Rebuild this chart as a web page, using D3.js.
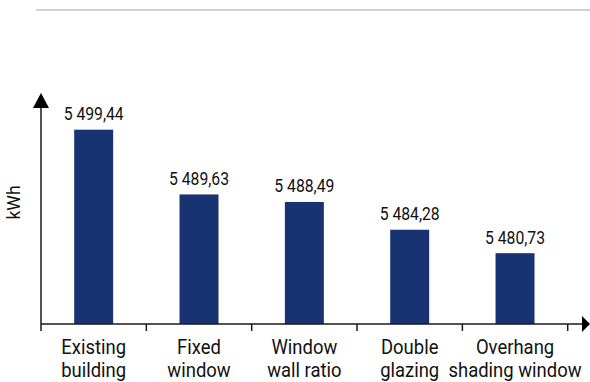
<!DOCTYPE html>
<html>
<head>
<meta charset="utf-8">
<script src="https://cdn.jsdelivr.net/npm/d3@7"></script>
<style>
  html, body { margin: 0; padding: 0; background: #fff; }
  svg { display: block; }
  text { font-family: Roboto, "Noto Sans", sans-serif; fill: #111; }
</style>
</head>
<body>
<script>
const categories = ["Existing building", "Fixed window", "Window wall ratio", "Double glazing", "Overhang shading window"];
const labelLines = [["Existing", "building"], ["Fixed", "window"], ["Window", "wall ratio"], ["Double", "glazing"], ["Overhang", "shading window"]];
const values = [5499.44, 5489.63, 5488.49, 5484.28, 5480.73];
const valueLabels = ["5 499,44", "5 489,63", "5 488,49", "5 484,28", "5 480,73"];
const yDomain = [5470, 5505];
const yTitle = "kWh";

const W = 590, H = 382;
const svg = d3.select("body").append("svg").attr("width", W).attr("height", H);

// top gray rule
svg.append("line").attr("x1", 36).attr("x2", 590).attr("y1", 10).attr("y2", 10)
  .attr("stroke", "#d2d2d2").attr("stroke-width", 2);

const x = d3.scaleBand().domain(categories).range([41, 567.7]).paddingInner(0).paddingOuter(0);
const y = d3.scaleLinear().domain(yDomain).range([324, 93]);
const barW = x.bandwidth() * 0.37;
const axisColor = "#1a1a1a";

// bars
svg.selectAll("rect.bar").data(values).enter().append("rect")
  .attr("class", "bar")
  .attr("x", (d, i) => x(categories[i]) + x.bandwidth() / 2 - barW / 2)
  .attr("width", barW)
  .attr("y", d => y(d))
  .attr("height", d => y(yDomain[0]) - y(d))
  .attr("fill", "#183371");

// value labels
svg.selectAll("text.val").data(values).enter().append("text")
  .attr("class", "val")
  .attr("transform", (d, i) => `translate(${x(categories[i]) + x.bandwidth() / 2},${y(d) - 9.5}) scale(0.9,1)`)
  .attr("text-anchor", "middle")
  .attr("font-size", 17.5)
  .text((d, i) => valueLabels[i]);

// x axis line
const y0 = y(yDomain[0]);
svg.append("line").attr("x1", 41).attr("x2", 582).attr("y1", y0).attr("y2", y0)
  .attr("stroke", axisColor).attr("stroke-width", 1.5);
svg.append("path").attr("d", `M582,${y0 - 8}L590,${y0}L582,${y0 + 8}Z`).attr("fill", "#000");

// ticks at band boundaries
const tickXs = categories.map(c => x(c)).concat([x.range()[1]]);
svg.selectAll("line.tick").data(tickXs).enter().append("line")
  .attr("class", "tick")
  .attr("x1", d => d).attr("x2", d => d)
  .attr("y1", y0).attr("y2", y0 + 7)
  .attr("stroke", axisColor).attr("stroke-width", 1.5);

// y axis line + arrow
svg.append("line").attr("x1", 41).attr("x2", 41).attr("y1", y0).attr("y2", y(yDomain[1]) + 14)
  .attr("stroke", axisColor).attr("stroke-width", 1.5);
const yt = y(yDomain[1]);
svg.append("path").attr("d", `M33,${yt + 15}L41,${yt}L49,${yt + 15}Z`).attr("fill", "#000");

// category labels
const cat = svg.selectAll("g.cat").data(labelLines).enter().append("g")
  .attr("class", "cat")
  .attr("transform", (d, i) => `translate(${x(categories[i]) + x.bandwidth() / 2},0) scale(0.9,1)`);
cat.each(function(lines) {
  d3.select(this).selectAll("text").data(lines).enter().append("text")
    .attr("text-anchor", "middle")
    .attr("font-size", 20.5)
    .attr("y", (d, j) => 354 + j * 23)
    .text(d => d);
});

// y title
svg.append("text")
  .attr("transform", "translate(20,202.5) rotate(-90)")
  .attr("text-anchor", "middle")
  .attr("font-size", 17.5)
  .text(yTitle);
</script>
</body>
</html>
